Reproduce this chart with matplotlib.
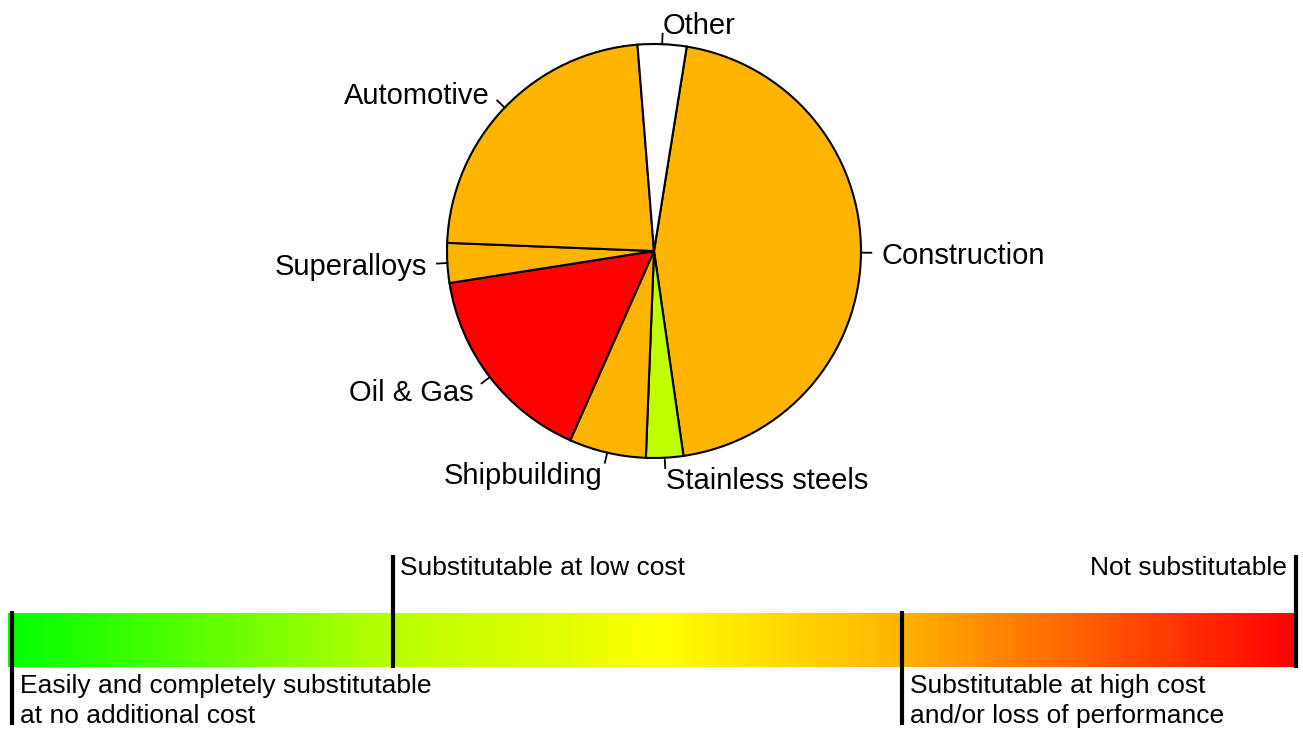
import numpy as np
import matplotlib
matplotlib.use('Agg')
import matplotlib.pyplot as plt
from matplotlib.colors import LinearSegmentedColormap

plt.rcParams['font.family'] = ['Liberation Sans', 'DejaVu Sans']

# pie data (shares in %), clockwise from the top
sectors = ['Construction', 'Stainless steels', 'Shipbuilding', 'Oil & Gas',
           'Superalloys', 'Automotive', 'Other']
shares = [45.2, 2.9, 6.0, 15.9, 3.1, 23.1, 3.8]
sector_colours = ['#FFB400', '#BFFF00', '#FFB400', '#FF0000',
                  '#FFB400', '#FFB400', '#FFFFFF']

# substitutability scale
scale_labels = ['Easily and completely substitutable\nat no additional cost',
                'Substitutable at low cost',
                'Substitutable at high cost\nand/or loss of performance',
                'Not substitutable']
scale_marks = [0.0, 0.297, 0.693, 1.0]
scale_stops = [0.0, 0.297, 0.51, 0.693, 1.0]
scale_colours = ['#00FF00', '#B8FF00', '#FFFF00', '#FFB400', '#FF0000']

W, H = 1303, 731
fig = plt.figure(figsize=(W / 100, H / 100), dpi=100)
ax = fig.add_axes([0, 0, 1, 1])

def py(y):
    # pixel row (from top) -> data y
    return H - y

# pie
cx, cy, r = 654, py(251), 207
wedges, _ = ax.pie(shares, colors=sector_colours, startangle=80.9, counterclock=False,
                   center=(cx, cy), radius=r, frame=True,
                   wedgeprops=dict(edgecolor='black', linewidth=1.5))

for w, name in zip(wedges, sectors):
    mid = np.deg2rad((w.theta1 + w.theta2) / 2)
    c, s = np.cos(mid), np.sin(mid)
    ax.plot([cx + r * c, cx + 1.05 * r * c], [cy + r * s, cy + 1.05 * r * s],
            color='black', lw=1.3)
    ax.text(cx + 1.1 * r * c, cy + 1.1 * r * s - 3, name, fontsize=21,
            ha='left' if c >= 0 else 'right', va='center')

# gradient bar
x0, x1 = 12, 1296
cmap = LinearSegmentedColormap.from_list('subst', list(zip(scale_stops, scale_colours)))
ramp = np.linspace(0, 1, 1024).reshape(1, -1)
ax.imshow(ramp, cmap=cmap, aspect='auto', extent=(8, x1, py(667), py(613)),
          interpolation='bilinear', zorder=1)

for i, (m, lab) in enumerate(zip(scale_marks, scale_labels)):
    x = x0 + m * (x1 - x0)
    if i % 2 == 0:
        # marker pointing down, text under the bar
        ax.plot([x, x], [py(611), py(725)], color='black', lw=3, zorder=3,
                solid_capstyle='butt')
        ax.text(x + 8, py(701), lab, fontsize=19, ha='left', va='center',
                linespacing=1.3)
    else:
        ax.plot([x, x], [py(555), py(668)], color='black', lw=3, zorder=3,
                solid_capstyle='butt')
        if m < 1:
            ax.text(x + 7, py(568), lab, fontsize=19, ha='left', va='center')
        else:
            ax.text(x - 9, py(568), lab, fontsize=19, ha='right', va='center')

ax.set_xlim(0, W)
ax.set_ylim(0, H)
ax.set_aspect('auto')
ax.axis('off')

fig.savefig('out.png', dpi=100)
